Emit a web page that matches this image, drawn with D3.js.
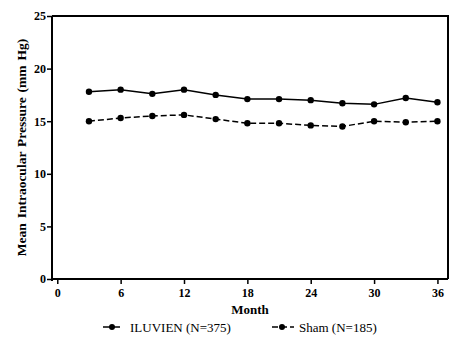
<!DOCTYPE html>
<html>
<head>
<meta charset="utf-8">
<script src="https://cdn.jsdelivr.net/npm/d3@7"></script>
<style>
  body { margin: 0; background: #fff; }
  .warm { position: absolute; left: -2000px; top: 0; font-family: "Times New Roman", "Liberation Serif", serif; font-size: 13px; }
  #plot text { font-family: "Times New Roman", "Liberation Serif", "DejaVu Serif", serif; }
</style>
</head>
<body>
<div class="warm"><b>Month 0 6 12 Mean (mm Hg)</b> ILUVIEN (N=375) Sham</div>
<svg id="plot" width="457" height="340"></svg>
<script>
const months = [3, 6, 9, 12, 15, 18, 21, 24, 27, 30, 33, 36];
const iluvien = [17.8, 18.0, 17.6, 18.0, 17.5, 17.1, 17.1, 17.0, 16.7, 16.6, 17.2, 16.8];
const sham = [15.0, 15.3, 15.5, 15.6, 15.2, 14.8, 14.8, 14.6, 14.5, 15.0, 14.9, 15.0];
const xTicks = [0, 6, 12, 18, 24, 30, 36];
const yTicks = [0, 5, 10, 15, 20, 25];
const seriesNames = ["ILUVIEN (N=375)", "Sham (N=185)"];

const FONT = `"Times New Roman", "Liberation Serif", "DejaVu Serif", serif`;
const width = 457, height = 340;
const margin = { top: 16, right: 9, bottom: 61, left: 52 };

const svg = d3.select("#plot");

const x = d3.scaleLinear().domain([-0.5, 37]).range([margin.left, width - margin.right]);
const y = d3.scaleLinear().domain([0, 25]).range([height - margin.bottom, margin.top]);

// box (top + right)
svg.append("path")
  .attr("d", `M${x(-0.5)},${y(25)} H${x(37)} V${y(0)}`)
  .attr("fill", "none")
  .attr("stroke", "#000")
  .attr("stroke-width", 2);

// ticks: minor ones first, then majors with labels
const xAxisG = svg.append("g").attr("transform", `translate(0,${y(0)})`);
xAxisG.call(d3.axisBottom(x).tickValues(d3.range(0, 37, 1)).tickSize(3).tickFormat(""))
  .call(g => g.select(".domain").remove());
xAxisG.call(d3.axisBottom(x).tickValues(xTicks).tickSize(5).tickPadding(4))
  .call(g => g.selectAll(".domain").remove());

const yAxisG = svg.append("g").attr("transform", `translate(${x(-0.5)},0)`);
yAxisG.call(d3.axisLeft(y).tickValues(d3.range(0, 25.01, 0.5)).tickSize(3).tickFormat(""))
  .call(g => g.select(".domain").remove());
yAxisG.call(d3.axisLeft(y).tickValues(yTicks).tickSize(5).tickPadding(1))
  .call(g => g.selectAll(".domain").remove());

svg.selectAll("g").attr("font-family", null);
svg.selectAll(".tick line").attr("stroke-width", 1.5);
svg.selectAll(".tick text")
  .style("font-weight", "bold")
  .style("font-size", "12px");

// axis lines
svg.append("line")
  .attr("x1", x(-0.5)).attr("x2", x(37))
  .attr("y1", y(0)).attr("y2", y(0))
  .attr("stroke", "#000").attr("stroke-width", 2);
svg.append("line")
  .attr("x1", x(-0.5)).attr("x2", x(-0.5))
  .attr("y1", y(25)).attr("y2", y(0) + 2)
  .attr("stroke", "#000").attr("stroke-width", 2);

// axis titles
svg.append("text")
  .attr("x", (x(-0.5) + x(37)) / 2)
  .attr("y", 314)
  .attr("text-anchor", "middle")
  .style("font-weight", "bold")
  .style("font-size", "13px")
  .text("Month");

svg.append("text")
  .attr("transform", `translate(26,${(y(0) + y(25)) / 2}) rotate(-90)`)
  .attr("text-anchor", "middle")
  .style("font-weight", "bold")
  .style("font-size", "13.5px")
  .style("word-spacing", "1.5px")
  .text("Mean Intraocular Pressure (mm Hg)");

// series
const series = [
  { name: seriesNames[0], values: iluvien, dash: null },
  { name: seriesNames[1], values: sham, dash: "6,3" }
];

const line = d3.line()
  .x((d, i) => x(months[i]))
  .y(d => y(d));

series.forEach(s => {
  svg.append("path")
    .datum(s.values)
    .attr("d", line)
    .attr("fill", "none")
    .attr("stroke", "#000")
    .attr("stroke-width", 1.5)
    .attr("stroke-dasharray", s.dash);
  svg.selectAll(null)
    .data(s.values)
    .enter().append("circle")
    .attr("cx", (d, i) => x(months[i]))
    .attr("cy", d => y(d))
    .attr("r", 3.2)
    .attr("fill", "#000");
});

// legend
const legendX = [103, 272];
series.forEach((s, i) => {
  const g = svg.append("g").attr("transform", `translate(${legendX[i]},327)`);
  g.append("line")
    .attr("x1", 0).attr("x2", i === 0 ? 17 : 22)
    .attr("y1", 0).attr("y2", 0)
    .attr("stroke", "#000")
    .attr("stroke-width", 1.5)
    .attr("stroke-dasharray", s.dash);
  g.append("circle")
    .attr("cx", i === 0 ? 9 : 10).attr("cy", 0).attr("r", 3)
    .attr("fill", "#000");
  g.append("text")
    .attr("x", 27)
    .attr("y", 4.5)
    .style("font-size", "13px")
    .text(s.name);
});

// set the family inline too, and again once fonts report ready
svg.selectAll("text").style("font-family", FONT);
if (document.fonts && document.fonts.ready) {
  document.fonts.ready.then(() => {
    svg.selectAll("text").style("font-family", null).style("font-family", FONT);
  });
}
</script>
</body>
</html>
